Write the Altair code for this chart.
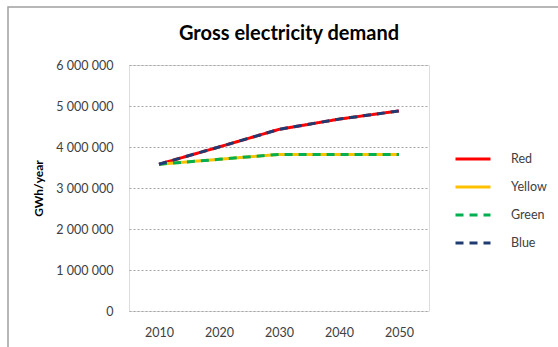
import altair as alt
import pandas as pd

years = ["2010", "2020", "2030", "2040", "2050"]
red = [3580000, 4000000, 4430000, 4680000, 4880000]
yellow = [3580000, 3700000, 3820000, 3820000, 3820000]
green = [3580000, 3700000, 3820000, 3820000, 3820000]
blue = [3580000, 4000000, 4430000, 4680000, 4880000]

series_names = ["Red", "Yellow", "Green", "Blue"]
series_colors = ["#FF0000", "#FFC000", "#00B050", "#1F3B73"]
series_dash = [[1, 0], [1, 0], [8, 6], [8, 6]]

rows = []
for name, vals in zip(series_names, [red, yellow, green, blue]):
    for y, v in zip(years, vals):
        rows.append({"year": y, "demand": v, "series": name})
df = pd.DataFrame(rows)

FONT = "Lato"
GREY = "#404040"

x_enc = alt.X("year:O", scale=alt.Scale(type="point", padding=0.5), axis=alt.Axis(
    title=None, labelAngle=0, labelFontSize=12.5, labelColor=GREY, labelPadding=15,
    ticks=False, domain=False, grid=False, labelFont=FONT))
y_enc = alt.Y("demand:Q", scale=alt.Scale(domain=[0, 6000000], nice=False), axis=alt.Axis(
    title="GWh/year", titleFontSize=12, titleFontWeight="bold", titleColor="#000000",
    titleFont=FONT, titlePadding=10,
    values=[0, 1000000, 2000000, 3000000, 4000000, 5000000, 6000000],
    labelExpr="replace(format(datum.value, ','), /,/g, ' ')",
    labelFontSize=12.5, labelColor=GREY, labelFont=FONT, labelPadding=16,
    ticks=False, domain=False, gridColor="#A6A6A6", gridDash=[2, 2], gridWidth=1))
color_enc = alt.Color("series:N", scale=alt.Scale(domain=series_names, range=series_colors),
                      legend=alt.Legend(title=None, orient="none", legendX=325, legendY=75,
                                        symbolType="stroke", symbolStrokeWidth=3,
                                        symbolSize=1225, labelFontSize=12.5, labelColor=GREY,
                                        labelFont=FONT, labelOffset=19, rowPadding=2))
dash_enc = alt.StrokeDash("series:N", scale=alt.Scale(domain=series_names, range=series_dash),
                          legend=None)

base = alt.Chart(df).encode(x=x_enc, y=y_enc, color=color_enc, strokeDash=dash_enc)

solid = base.transform_filter(
    alt.FieldOneOfPredicate(field="series", oneOf=["Red", "Yellow"])
).mark_line(strokeWidth=3)
dashed = base.transform_filter(
    alt.FieldOneOfPredicate(field="series", oneOf=["Green", "Blue"])
).mark_line(strokeWidth=3)

# outer frame around the whole figure
frame = alt.Chart(pd.DataFrame({"k": [0]})).mark_rect(
    fill=None, stroke="#A0A0A0", strokeWidth=1.5, clip=False
).encode(x=alt.value(-121), x2=alt.value(460), y=alt.value(-58), y2=alt.value(300))

chart = alt.layer(frame, solid, dashed).properties(
    width=300, height=246,
    title=alt.TitleParams("Gross electricity demand", fontSize=20, fontWeight="bold",
                          font=FONT, color="#000000", anchor="middle", dx=10, offset=-38),
    padding={"left": 129, "top": 65, "right": 129, "bottom": 36},
    autosize=alt.AutoSizeParams(type="none"),
).configure_view(stroke="#868686", strokeWidth=1).configure(background="white")

chart.save("out.html", embed_options={"renderer": "svg", "actions": False})
